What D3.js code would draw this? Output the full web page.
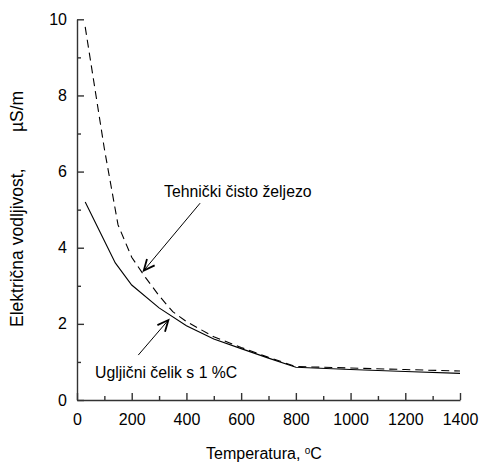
<!DOCTYPE html>
<html>
<head>
<meta charset="utf-8">
<script src="https://cdn.jsdelivr.net/npm/d3@7"></script>
<style>
  html, body { margin: 0; padding: 0; background: #fff; }
  svg { display: block; font-family: "Liberation Sans", Arial, sans-serif; }
</style>
</head>
<body>
<svg id="chart" width="480" height="463"></svg>
<script>
// Temperature (°C) and electrical conductivity (µS/m)
const ironTemps = [30, 100, 150, 200, 250, 300, 350, 400, 500, 600, 700, 800, 1000, 1200, 1400];
const ironValues = [9.8, 6.6, 4.6, 3.75, 3.22, 2.74, 2.32, 2.06, 1.66, 1.38, 1.12, 0.88, 0.84, 0.8, 0.76];
const steelTemps = [30, 140, 200, 300, 400, 500, 600, 700, 800, 1000, 1200, 1400];
const steelValues = [5.2, 3.6, 3.02, 2.42, 1.95, 1.6, 1.35, 1.1, 0.86, 0.8, 0.75, 0.7];

const xTicks = [0, 200, 400, 600, 800, 1000, 1200, 1400];
const xMinorTicks = [100, 300, 500, 700, 900, 1100, 1300];
const yTicks = [0, 2, 4, 6, 8, 10];
const yMinorTicks = [1, 3, 5, 7, 9];

const svg = d3.select("#chart");
const x = d3.scaleLinear().domain([0, 1400]).range([77, 460]);
const y = d3.scaleLinear().domain([0, 10]).range([400, 19.3]);
const fmt = d3.format("d");

// axes: ticks point inward
svg.append("g").attr("transform", "translate(0,400)")
  .call(d3.axisBottom(x).tickValues(xTicks).tickFormat(fmt).tickSizeInner(-7).tickSizeOuter(0).tickPadding(14));
svg.append("g").attr("transform", "translate(0,400)")
  .call(d3.axisBottom(x).tickValues(xMinorTicks).tickSizeInner(-4).tickSizeOuter(0).tickFormat(""))
  .select(".domain").remove();
svg.append("g").attr("transform", "translate(77,0)")
  .call(d3.axisLeft(y).tickValues(yTicks).tickFormat(fmt).tickSizeInner(-7).tickSizeOuter(0).tickPadding(10));
svg.append("g").attr("transform", "translate(77,0)")
  .call(d3.axisLeft(y).tickValues(yMinorTicks).tickSizeInner(-4).tickSizeOuter(0).tickFormat(""))
  .select(".domain").remove();

svg.selectAll(".tick line, .domain").attr("stroke", "#333").attr("stroke-width", 1.4);
svg.selectAll(".tick text").attr("font-size", 16).attr("font-family", "Liberation Sans, Arial, sans-serif").attr("fill", "#000");

// curves
const line = d3.line().x(d => x(d[0])).y(d => y(d[1]));
svg.append("path")
  .datum(d3.zip(ironTemps, ironValues))
  .attr("d", line).attr("fill", "none").attr("stroke", "#000")
  .attr("stroke-width", 1.1).attr("stroke-dasharray", "8,5");
svg.append("path")
  .datum(d3.zip(steelTemps, steelValues))
  .attr("d", line).attr("fill", "none").attr("stroke", "#000")
  .attr("stroke-width", 1.1);

// arrow marker (open head)
svg.append("defs").append("marker")
  .attr("id", "head").attr("markerUnits", "userSpaceOnUse")
  .attr("viewBox", "-12 -7 14 14").attr("refX", 0).attr("refY", 0)
  .attr("markerWidth", 14).attr("markerHeight", 14).attr("orient", "auto")
  .append("path").attr("d", "M-11,-5 L0,0 L-11,5")
  .attr("fill", "none").attr("stroke", "#000").attr("stroke-width", 1.8);

const arrows = [
  { from: [450, 5.17], to: [244, 3.4] },
  { from: [224, 1.18], to: [334, 2.1] }
];
svg.selectAll("line.arrow").data(arrows).enter().append("line")
  .attr("class", "arrow")
  .attr("x1", d => x(d.from[0])).attr("y1", d => y(d.from[1]))
  .attr("x2", d => x(d.to[0])).attr("y2", d => y(d.to[1]))
  .attr("stroke", "#000").attr("stroke-width", 1).attr("marker-end", "url(#head)");

svg.append("text").attr("x", x(588)).attr("y", y(5.33))
  .attr("text-anchor", "middle").attr("font-size", 15.8).text("Tehnički čisto željezo");
svg.append("text").attr("x", x(66)).attr("y", y(0.58))
  .attr("text-anchor", "start").attr("font-size", 15.8).text("Ugljični čelik s 1 %C");

// axis titles
const xt = svg.append("text").attr("x", 264).attr("y", 459).attr("text-anchor", "middle").attr("font-size", 16);
xt.append("tspan").text("Temperatura, ");
xt.append("tspan").attr("font-size", 10).attr("dy", -5).text("o");
xt.append("tspan").attr("dy", 5).text("C");

svg.append("text").attr("transform", "translate(23,327) rotate(-90)")
  .attr("text-anchor", "start").attr("font-size", 17.5).text("Električna vodljivost,");
svg.append("text").attr("transform", "translate(23,132) rotate(-90)")
  .attr("text-anchor", "start").attr("font-size", 17.5).text("µS/m");
</script>
</body>
</html>
